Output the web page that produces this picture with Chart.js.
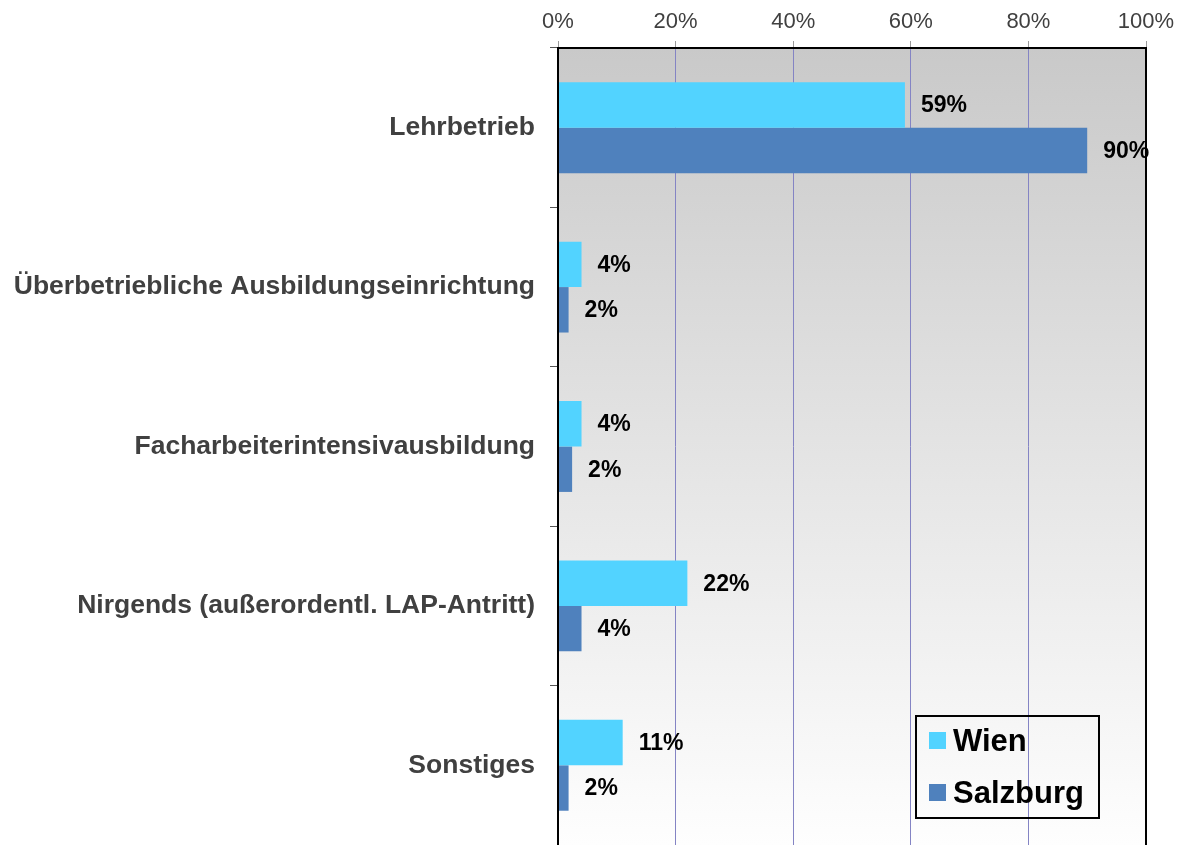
<!DOCTYPE html>
<html>
<head>
<meta charset="utf-8">
<script src="https://cdn.jsdelivr.net/npm/chart.js@4/dist/chart.umd.min.js"></script>
<style>
  html, body { margin: 0; padding: 0; background: #fff; }
  #wrap { width: 1187px; height: 845px; }
</style>
</head>
<body>
<div id="wrap"><canvas id="barChart" width="1187" height="845"></canvas></div>
<script>
// Daten
const categories = [
    'Lehrbetrieb',
    'Überbetriebliche Ausbildungseinrichtung',
    'Facharbeiterintensivausbildung',
    'Nirgends (außerordentl. LAP-Antritt)',
    'Sonstiges'
];
const wienValues = [59, 4, 4, 22, 11];
const salzburgValues = [90, 1.8, 2.4, 4, 1.8];
const seriesNames = ['Wien', 'Salzburg'];
const seriesColors = ['#52D3FF', '#4F81BD'];

const FONT = 'Arial, "Liberation Sans", Helvetica, sans-serif';

// Hintergrund: grauer Verlauf im Plotbereich
const bgPlugin = {
    id: 'bgPlugin',
    beforeDraw(chart) {
        const { ctx, chartArea: a } = chart;
        ctx.save();
        ctx.fillStyle = '#fff';
        ctx.fillRect(0, 0, chart.width, chart.height);
        const g = ctx.createLinearGradient(0, a.top, 0, a.bottom);
        g.addColorStop(0, '#c9c9c9');
        g.addColorStop(1, '#fefefe');
        ctx.fillStyle = g;
        ctx.fillRect(a.left, a.top, a.right - a.left, a.bottom - a.top);
        ctx.restore();
    }
};

// Rahmen + Datenbeschriftungen
const labelPlugin = {
    id: 'labelPlugin',
    afterDatasetsDraw(chart) {
        const { ctx, chartArea: a } = chart;
        ctx.save();
        ctx.strokeStyle = '#000';
        ctx.lineWidth = 2;
        ctx.beginPath();
        ctx.moveTo(a.left, a.bottom + 2);
        ctx.lineTo(a.left, a.top);
        ctx.lineTo(a.right, a.top);
        ctx.lineTo(a.right, a.bottom + 2);
        ctx.stroke();

        ctx.font = 'bold 23px ' + FONT;
        ctx.fillStyle = '#000';
        ctx.textAlign = 'left';
        ctx.textBaseline = 'middle';
        chart.data.datasets.forEach((ds, i) => {
            chart.getDatasetMeta(i).data.forEach((bar, j) => {
                ctx.fillText(Math.round(ds.data[j]) + '%', bar.x + 16, bar.y + 1);
            });
        });
        ctx.restore();
    }
};

// Legende (Kasten unten rechts)
const legendPlugin = {
    id: 'legendPlugin',
    afterDraw(chart) {
        const { ctx } = chart;
        ctx.save();
        ctx.strokeStyle = '#000';
        ctx.lineWidth = 2;
        ctx.strokeRect(916, 716, 183, 102);
        ctx.font = 'bold 31px ' + FONT;
        ctx.textBaseline = 'middle';
        ctx.fillStyle = '#000';
        chart.data.datasets.forEach((ds, i) => {
            const y = 741 + i * 52;
            ctx.fillStyle = ds.backgroundColor;
            ctx.fillRect(929, y - 9, 17, 17);
            ctx.fillStyle = '#000';
            ctx.fillText(ds.label, 953, y + 1);
        });
        ctx.restore();
    }
};

new Chart(document.getElementById('barChart').getContext('2d'), {
    type: 'bar',
    data: {
        labels: categories,
        datasets: [
            { label: seriesNames[0], data: wienValues, backgroundColor: seriesColors[0], barPercentage: 1, categoryPercentage: 0.57 },
            { label: seriesNames[1], data: salzburgValues, backgroundColor: seriesColors[1], barPercentage: 1, categoryPercentage: 0.57 }
        ]
    },
    options: {
        indexAxis: 'y',
        responsive: false,
        devicePixelRatio: 1,
        animation: false,
        layout: { padding: { top: 0, right: 41, bottom: 0, left: 0 } },
        scales: {
            x: {
                position: 'top',
                min: 0, max: 100,
                ticks: { stepSize: 20, callback: v => v + '%', color: '#404040', font: { family: FONT, size: 22 }, padding: 6 },
                grid: { color: '#8484c4', lineWidth: 1, tickLength: 7, tickColor: '#9a9a9a' },
                border: { display: false },
                afterFit: s => { s.height = 48; }
            },
            y: {
                ticks: { color: '#404040', font: { family: FONT, size: 26.5, weight: 'bold' }, padding: 15 },
                grid: { drawOnChartArea: false, tickLength: 8, tickColor: '#555' },
                border: { display: false },
                afterFit: s => { s.width = 558; s.paddingTop = 0; s.paddingBottom = 0; }
            }
        },
        plugins: { legend: { display: false }, tooltip: { enabled: false } }
    },
    plugins: [bgPlugin, labelPlugin, legendPlugin]
});
</script>
</body>
</html>
